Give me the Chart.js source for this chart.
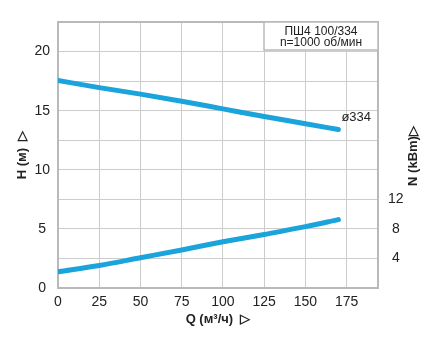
<!DOCTYPE html>
<html>
<head>
<meta charset="utf-8">
<script src="https://cdn.jsdelivr.net/npm/chart.js@4"></script>
<style>
  html, body { margin: 0; padding: 0; background: #fff; }
  #wrap { width: 438px; height: 338px; }
</style>
</head>
<body>
<div id="wrap"><canvas id="pumpChart" width="438" height="338"></canvas></div>
<script>
// flow rate points, m3/h
const flowQ = [0, 25, 50, 75, 100, 125, 150, 170];
// head, m (impeller 334)
const headH = [17.55, 16.95, 16.4, 15.8, 15.15, 14.5, 13.9, 13.4];
// shaft power, kW
const powerN = [2.2, 3.05, 4.1, 5.15, 6.25, 7.25, 8.3, 9.25];
// axis tick labels that are shown
const qTicks = [0, 25, 50, 75, 100, 125, 150, 175];
const hTicks = [0, 5, 10, 15, 20];
const nTicks = [4, 8, 12];

const titleLines = ['ПШ4 100/334', 'n=1000 об/мин'];
const curveLabel = 'ø334';

const lineColor = '#1ba3dc';
const gridColor = '#cccccc';
const frameColor = '#b9b9b9';
const textColor = '#222222';
const fontFamily = "'Liberation Sans', Arial, sans-serif";

const toPoints = (xs, ys) => xs.map((x, i) => ({ x: x, y: ys[i] }));

// frame, title box, curve label and right axis title
const extras = {
  id: 'extras',
  beforeDatasetsDraw(chart) {
    const { ctx, chartArea: a } = chart;
    ctx.save();
    ctx.strokeStyle = frameColor;
    ctx.lineWidth = 2;
    ctx.strokeRect(a.left, a.top, a.right - a.left, a.bottom - a.top);

    // info box in the top right corner
    const bx = 264, by = a.top, bw = a.right - 264, bh = 28;
    ctx.fillStyle = '#fff';
    ctx.fillRect(bx, by, bw, bh);
    ctx.lineWidth = 1.5;
    ctx.strokeRect(bx, by, bw, bh);
    ctx.fillStyle = textColor;
    ctx.font = '12px ' + fontFamily;
    ctx.textAlign = 'center';
    ctx.textBaseline = 'middle';
    ctx.fillText(titleLines[0], bx + bw / 2, by + 10);
    ctx.fillText(titleLines[1], bx + bw / 2, by + 21);
    ctx.restore();
  },
  afterDraw(chart) {
    const { ctx, scales } = chart;
    ctx.save();
    ctx.fillStyle = textColor;
    // label at the end of the head curve
    const last = flowQ.length - 1;
    ctx.font = '13px ' + fontFamily;
    ctx.textAlign = 'left';
    ctx.textBaseline = 'middle';
    ctx.fillText(curveLabel, scales.x.getPixelForValue(flowQ[last]) + 3,
      scales.y.getPixelForValue(headH[last]) - 12);

    // right axis title, read from bottom to top
    ctx.translate(413, 156);
    ctx.rotate(-Math.PI / 2);
    ctx.font = 'bold 13px ' + fontFamily;
    ctx.textAlign = 'center';
    ctx.fillText('N (kBm)▷', 0, 0);
    ctx.restore();
  }
};

new Chart(document.getElementById('pumpChart'), {
  type: 'line',
  data: {
    datasets: [
      {
        label: 'H',
        data: toPoints(flowQ, headH),
        yAxisID: 'y',
        borderColor: lineColor,
        borderWidth: 5,
        borderCapStyle: 'round',
        pointRadius: 0,
        cubicInterpolationMode: 'monotone'
      },
      {
        label: 'N',
        data: toPoints(flowQ, powerN),
        yAxisID: 'y1',
        borderColor: lineColor,
        borderWidth: 5,
        borderCapStyle: 'round',
        pointRadius: 0,
        cubicInterpolationMode: 'monotone'
      }
    ]
  },
  options: {
    responsive: false,
    animation: false,
    layout: { padding: { top: 22, left: 0, right: 0, bottom: 0 } },
    plugins: {
      legend: { display: false },
      tooltip: { enabled: false }
    },
    scales: {
      x: {
        type: 'linear',
        min: 0,
        max: 194,
        afterFit: (s) => { s.height = 50; },
        afterBuildTicks: (s) => {
          s.ticks = qTicks.map((v) => ({ value: v }));
        },
        grid: { color: gridColor, drawTicks: false },
        border: { display: false },
        ticks: {
          padding: 6,
          color: textColor,
          font: { family: fontFamily, size: 14 },
          maxRotation: 0
        },
        title: {
          display: true,
          text: 'Q (м³/ч)  ▷',
          color: textColor,
          font: { family: fontFamily, size: 13, weight: 'bold' },
          padding: { top: 0, bottom: 11 }
        }
      },
      y: {
        position: 'left',
        min: 0,
        max: 22.5,
        afterFit: (s) => { s.width = 58; },
        grid: { color: gridColor, drawTicks: false },
        border: { display: false },
        ticks: {
          stepSize: 2.5,
          padding: 8,
          crossAlign: 'center',
          color: textColor,
          font: { family: fontFamily, size: 14 },
          callback: (v) => (hTicks.includes(v) ? v : '')
        },
        title: {
          display: true,
          text: 'H (м)  ▷',
          color: textColor,
          font: { family: fontFamily, size: 13, weight: 'bold' },
          padding: { top: 15, bottom: 0 }
        }
      },
      y1: {
        position: 'right',
        min: 0,
        max: 36,
        afterFit: (s) => { s.width = 60; },
        grid: { display: false, drawTicks: false },
        border: { display: false },
        ticks: {
          stepSize: 4,
          padding: 10,
          crossAlign: 'center',
          color: textColor,
          font: { family: fontFamily, size: 14 },
          callback: (v) => (nTicks.includes(v) ? v : '')
        }
      }
    }
  },
  plugins: [extras]
});
</script>
</body>
</html>
